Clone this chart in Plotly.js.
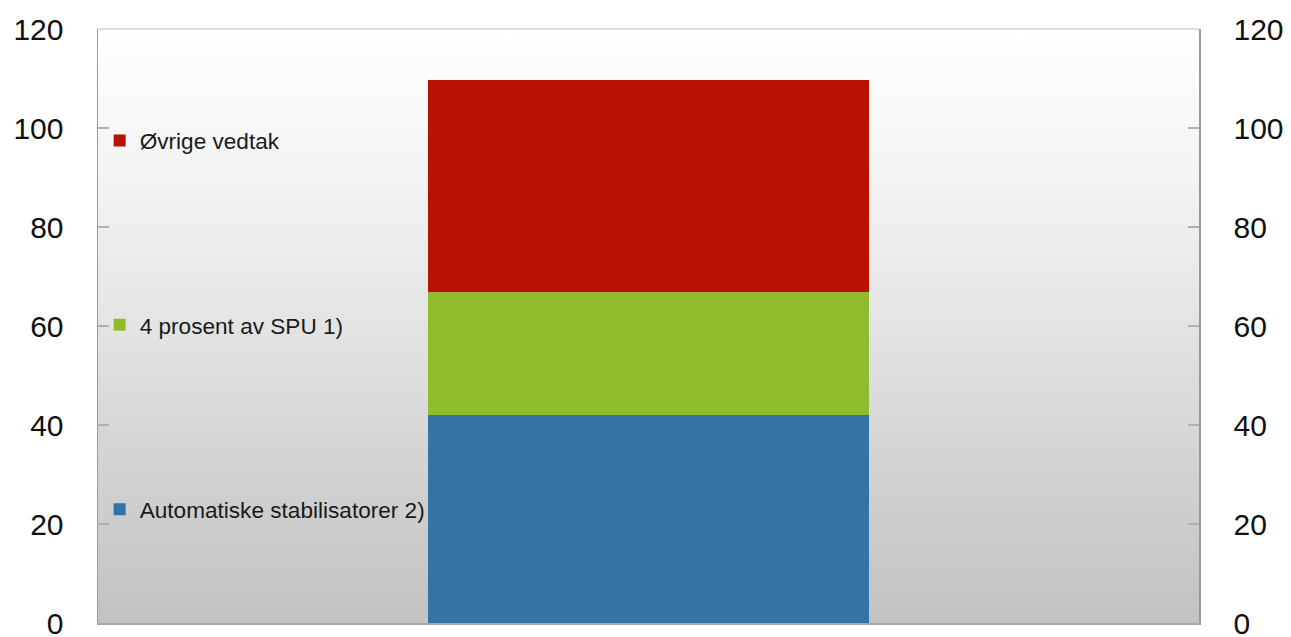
<!DOCTYPE html>
<html>
<head>
<meta charset="utf-8">
<script src="https://cdn.plot.ly/plotly-3.0.1.min.js"></script>
<style>
  html, body { margin: 0; padding: 0; background: #fff; }
  #chart { width: 1291px; height: 637px; }
</style>
</head>
<body>
<div id="chart"></div>
<script>
// Data
const categories = [''];
const seriesNames = ['Automatiske stabilisatorer 2)', '4 prosent av SPU 1)', 'Øvrige vedtak'];
const automatiske = [42];
const spu = [24.9];
const ovrige = [42.8];
const tickValues = [0, 20, 40, 60, 80, 100, 120];
const tickLabels = ['0', '20', '40', '60', '80', '100', '120'];

const colors = ['#3373a6', '#8fbc2c', '#b81202'];
const seriesValues = [automatiske, spu, ovrige];

const traces = seriesValues.map((vals, i) => ({
  type: 'bar',
  x: categories,
  y: vals,
  name: seriesNames[i],
  legendgroup: 'g' + i,
  legendrank: 3 - i,
  marker: { color: colors[i], line: { width: 0 } },
  hoverinfo: 'y+name'
}));

// invisible trace to activate right axis
traces.push({
  type: 'scatter', x: categories, y: [0], yaxis: 'y2',
  mode: 'markers', marker: { opacity: 0 }, showlegend: false, hoverinfo: 'skip'
});

const gradSvg = "<svg xmlns='http://www.w3.org/2000/svg' width='10' height='100' preserveAspectRatio='none'>" +
  "<defs><linearGradient id='g' x1='0' y1='0' x2='0' y2='1'>" +
  "<stop offset='0' stop-color='#ffffff'/>" +
  "<stop offset='0.2' stop-color='#f6f6f6'/>" +
  "<stop offset='0.45' stop-color='#e7e7e7'/>" +
  "<stop offset='0.7' stop-color='#d5d5d5'/>" +
  "<stop offset='1' stop-color='#c2c2c2'/>" +
  "</linearGradient></defs><rect width='10' height='100' fill='url(#g)'/></svg>";

const tickFont = { family: 'Liberation Sans, Arial, sans-serif', size: 30, color: '#111111' };

const yCommon = {
  range: [0, 120],
  tickmode: 'array',
  tickvals: tickValues,
  ticktext: tickLabels,
  ticks: 'inside',
  ticklen: 11,
  tickwidth: 1.5,
  tickcolor: '#b0b0b0',
  showgrid: false,
  zeroline: false,
  showline: true,
  linecolor: '#999999',
  linewidth: 1.5,
  tickfont: tickFont,
  ticklabelstandoff: 27,
  ticklabeloverflow: 'allow',
  fixedrange: true
};

const layout = {
  width: 1291,
  height: 637,
  margin: { l: 98, r: 92, t: 29, b: 14, pad: 0 },
  paper_bgcolor: '#ffffff',
  plot_bgcolor: 'rgba(0,0,0,0)',
  barmode: 'stack',
  bargap: 0.6,
  showlegend: true,
  legend: {
    x: 0.0015, y: 0.848, xanchor: 'left', yanchor: 'top',
    bgcolor: 'rgba(0,0,0,0)',
    traceorder: 'grouped',
    tracegroupgap: 152,
    font: { family: 'Liberation Sans, Arial, sans-serif', size: 22.6, color: '#1a1a1a' }
  },
  xaxis: {
    type: 'category',
    range: [-0.5, 0.5],
    showticklabels: false,
    ticks: '',
    showgrid: false,
    zeroline: false,
    showline: true,
    linecolor: '#a8a8a8',
    linewidth: 1.5,
    fixedrange: true
  },
  yaxis: Object.assign({}, yCommon, { side: 'left' }),
  yaxis2: Object.assign({}, yCommon, { side: 'right', overlaying: 'y' }),
  shapes: [{
    type: 'line', xref: 'paper', yref: 'paper',
    x0: 0, x1: 1, y0: 1, y1: 1,
    line: { color: '#d4d4d4', width: 1.5 }
  }],
  images: [{
    source: 'data:image/svg+xml;charset=utf-8,' + encodeURIComponent(gradSvg),
    xref: 'paper', yref: 'paper',
    x: 0, y: 1, sizex: 1, sizey: 1,
    sizing: 'stretch', layer: 'below',
    xanchor: 'left', yanchor: 'top'
  }]
};

Plotly.newPlot('chart', traces, layout, { displayModeBar: false, staticPlot: true });
</script>
</body>
</html>
